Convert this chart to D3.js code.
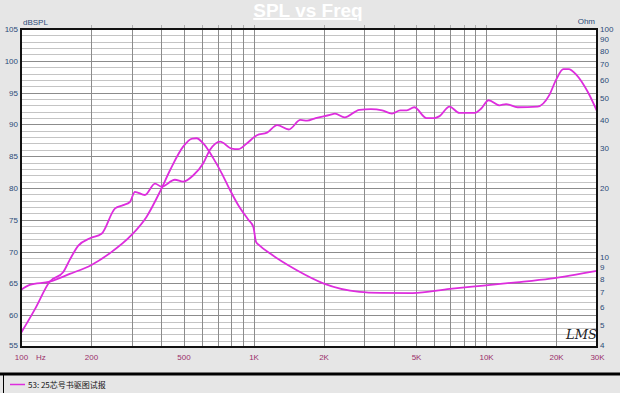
<!DOCTYPE html>
<html>
<head>
<meta charset="utf-8">
<script src="https://cdn.jsdelivr.net/npm/d3@7"></script>
<style>
body { margin:0; background:#e6e6e6; }
svg { display:block; font-family:"Liberation Sans", Arial, sans-serif; }
</style>
</head>
<body>
<script>
// SPL curve (left axis, dB)
var splFreq = [100,115,133,152,162,176,198,222,254,275,294,309,341,377,402,459,498,551,608,650,718,804,860,935,1034,1143,1264,1418,1592,1700,1850,2133,2240,2465,2853,3197,3575,3940,4276,4562,4913,5539,6010,6314,6960,7680,8935,9534,10255,11415,12190,13680,16660,18700,20000,21500,22640,24470,27400,30000];
var splDb   = [57.2,61.0,65.3,66.8,68.7,70.9,72.1,72.8,76.8,77.3,77.8,79.4,78.9,80.7,80.2,81.3,81.0,82.0,83.9,86.0,87.3,86.2,86.1,87.0,88.3,88.7,89.9,89.2,90.7,90.6,91.0,91.5,91.7,91.1,92.3,92.4,92.2,91.7,92.2,92.2,92.7,91.0,91.0,91.3,92.8,91.8,91.8,92.5,93.8,93.0,93.2,92.7,92.8,94.6,97.0,98.7,98.7,97.8,95.1,92.1];

// impedance curve (right axis, Ohm)
var impFreq = [100,109,133,162,201,241,299,347,396,438,498,545,569,608,672,730,792,860,950,998,1025,1060,1179,1529,1995,2853,3500,4830,6990,9760,13500,18900,30000];
var impOhm  = [7.13,7.5,7.75,8.38,9.18,10.33,12.43,14.96,19.27,24.0,30.4,33.0,33.1,31.4,27.0,23.2,19.6,16.8,14.5,13.5,11.6,11.2,10.3,8.72,7.62,6.99,6.92,6.9,7.2,7.45,7.7,8.0,8.65];

var xTicks = [100,200,500,1000,2000,5000,10000,20000,30000];
var xTickLabels = ["100","200","500","1K","2K","5K","10K","20K","30K"];
var xGrid = [200,300,400,500,600,700,800,900,1000,2000,3000,4000,5000,6000,7000,8000,9000,10000,20000];
var yLeftTicks = [55,60,65,70,75,80,85,90,95,100,105];
var yRightTicks = [4,5,6,7,8,9,10,20,30,40,50,60,70,80,90,100];
var legendLabel = "53: 25芯号书驱图试报";

var WIDTH = 620, HEIGHT = 393;
var LEFT = 21, RIGHT = 597, TOP = 29, BOTTOM = 347;
var CURVE = "#dd2ddd";

var translate = function (x,y) { return "translate("+x+","+y+")"; };

var xScale = d3.scaleLog().domain([100,30000]).range([LEFT,RIGHT]);
var yLeft = d3.scaleLinear().domain([55,105]).range([BOTTOM,TOP]);
var yRight = d3.scaleLog().domain([4,100]).range([BOTTOM,TOP]);

var draw = function () {
    var svg = d3.select('body').append('svg')
        .attr('width', WIDTH)
        .attr('height', HEIGHT);

    svg.append('rect').attr('width', WIDTH).attr('height', HEIGHT).attr('fill', '#e6e6e6');

    // title
    svg.append('text')
        .attr('x', 308).attr('y', 17)
        .attr('text-anchor', 'middle')
        .attr('font-size', 19).attr('font-weight', 'bold')
        .attr('fill', '#ffffff')
        .attr('text-decoration', 'underline')
        .text('SPL vs Freq');

    svg.append('rect')
        .attr('x', LEFT).attr('y', TOP)
        .attr('width', RIGHT-LEFT).attr('height', BOTTOM-TOP)
        .attr('fill', '#ffffff');

    // horizontal grid, every dB
    var hg = svg.append('g');
    hg.selectAll('line').data(d3.range(56,105))
      .enter().append('line')
      .attr('x1', LEFT).attr('x2', RIGHT)
      .attr('y1', function (d) {return Math.round(yLeft(d))+0.5})
      .attr('y2', function (d) {return Math.round(yLeft(d))+0.5})
      .attr('stroke', function (d) {return d%5===0 ? '#8c8c8c' : '#c4c4c4'})
      .attr('stroke-width', 1);

    // vertical grid
    var vg = svg.append('g');
    vg.selectAll('line').data(xGrid)
      .enter().append('line')
      .attr('x1', function (d) {return Math.round(xScale(d))+0.5})
      .attr('x2', function (d) {return Math.round(xScale(d))+0.5})
      .attr('y1', TOP).attr('y2', BOTTOM)
      .attr('stroke', '#8c8c8c');
    // small ticks above plot
    vg.selectAll('.tk').data(xGrid)
      .enter().append('line')
      .attr('x1', function (d) {return Math.round(xScale(d))+0.5})
      .attr('x2', function (d) {return Math.round(xScale(d))+0.5})
      .attr('y1', TOP-4).attr('y2', TOP-1)
      .attr('stroke', '#b0b0b0');

    // curves
    var splLine = d3.line()
        .curve(d3.curveMonotoneX)
        .x(function (d,i) {return xScale(splFreq[i])})
        .y(function (d) {return yLeft(d)});
    var impLine = d3.line()
        .curve(d3.curveMonotoneX)
        .x(function (d,i) {return xScale(impFreq[i])})
        .y(function (d) {return yRight(d)});

    svg.append('path').attr('d', impLine(impOhm))
        .attr('fill', 'none').attr('stroke', CURVE).attr('stroke-width', 1.8);
    svg.append('path').attr('d', splLine(splDb))
        .attr('fill', 'none').attr('stroke', CURVE).attr('stroke-width', 1.8);

    // frame
    svg.append('rect')
        .attr('x', LEFT).attr('y', TOP)
        .attr('width', RIGHT-LEFT).attr('height', BOTTOM-TOP)
        .attr('fill', 'none').attr('stroke', '#111').attr('stroke-width', 2);

    // axes
    var leftAxis = d3.axisLeft(yLeft).tickValues(yLeftTicks).tickSize(0).tickPadding(3);
    var gl = svg.append('g').attr('transform', translate(LEFT,0)).call(leftAxis);
    var rightAxis = d3.axisRight(yRight).tickValues(yRightTicks).tickSize(0).tickPadding(3)
        .tickFormat(d3.format('d'));
    var gr = svg.append('g').attr('transform', translate(RIGHT,0)).call(rightAxis);
    var bottomAxis = d3.axisBottom(xScale).tickValues(xTicks).tickSize(0).tickPadding(7)
        .tickFormat(function (d,i) {return xTickLabels[i]});
    var gb = svg.append('g').attr('transform', translate(0,BOTTOM)).call(bottomAxis);

    [gl,gr,gb].forEach(function (g) {
        g.select('.domain').remove();
        g.attr('font-family', '"Liberation Sans", Arial, sans-serif').attr('font-size', 8);
    });
    gl.selectAll('text').attr('fill', '#2b4a78');
    gr.selectAll('text').attr('fill', '#2b4a78');
    gb.selectAll('text').attr('fill', '#9a2f6a');
    // lift the lowest y labels clear of the frequency labels
    gl.selectAll('.tick').filter(function (d) {return d===55}).select('text').attr('dy', '0.05em');
    gr.selectAll('.tick').filter(function (d) {return d===4}).select('text').attr('dy', '0.05em');

    svg.append('text').attr('x', 36).attr('y', 360).attr('font-size', 8)
        .attr('fill', '#9a2f6a').text('Hz');
    svg.append('text').attr('x', 23).attr('y', 25).attr('font-size', 8)
        .attr('fill', '#2b4a78').text('dBSPL');
    svg.append('text').attr('x', 595).attr('y', 24).attr('font-size', 8)
        .attr('text-anchor', 'end').attr('fill', '#2b4a78').text('Ohm');

    // LMS mark
    svg.append('text').attr('x', 566).attr('y', 339)
        .attr('font-family', '"DejaVu Serif", serif').attr('font-style', 'italic')
        .attr('font-size', 13).attr('fill', '#222').text('LMS');

    // legend
    svg.append('line').attr('x1', 0).attr('x2', WIDTH).attr('y1', 374).attr('y2', 374)
        .attr('stroke', '#000').attr('stroke-width', 3);
    svg.append('line').attr('x1', 3.5).attr('x2', 3.5).attr('y1', 374).attr('y2', HEIGHT)
        .attr('stroke', '#000').attr('stroke-width', 1);
    svg.append('line').attr('x1', 10).attr('x2', 25).attr('y1', 384.5).attr('y2', 384.5)
        .attr('stroke', CURVE).attr('stroke-width', 1.5);
    svg.append('text').attr('x', 28).attr('y', 388).attr('font-size', 8)
        .attr('font-family', '"Noto Sans CJK SC", "Liberation Sans", sans-serif')
        .attr('fill', '#111').text(legendLabel);
};

window.onload = draw;
</script>
</body>
</html>
